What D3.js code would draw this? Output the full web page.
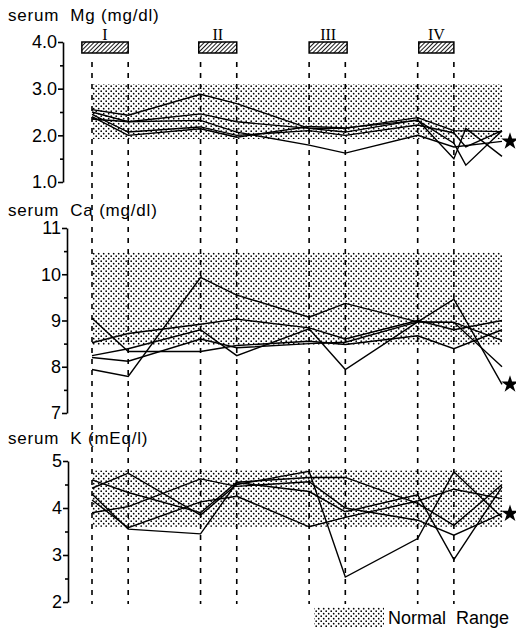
<!DOCTYPE html>
<meta charset="utf-8">
<script src="https://d3js.org/d3.v7.min.js"></script>
<style>
body { margin: 0; background: #fff; }
text { font-family: "Liberation Sans", Arial, sans-serif; fill: #000; }
.trace { fill: none; stroke: #000; stroke-width: 1.4px; stroke-linejoin: miter; }
.sample { stroke: #000; stroke-width: 1.6px; stroke-dasharray: 5,6; }
.axis path, .axis line { stroke: #000; stroke-width: 1.6px; }
.axis text { font-size: 18px; }
.title { font-size: 17px; letter-spacing: 0.8px; }
.roman { font-family: "Liberation Serif", "DejaVu Serif", serif; font-size: 16px; }
</style>
<body>
<script>

// sampling times (weeks); 10.33 only where a trace has an extra reading
var times = [0, 1, 3, 4, 6, 7, 9, 10, 10.33, 11.33];
var sampleTimes = [0, 1, 3, 4, 6, 7, 9, 10];

// treatment courses I - IV (start, end in weeks)
var courseNames = ["I", "II", "III", "IV"];
var courseStart = [-0.28, 2.95, 6, 9.03];
var courseEnd = [1, 4, 7.05, 10];

// serum Mg (mg/dl)
var mg1 = [2.55, 2.43, 2.88, 2.68, 2.15, 2.15, 2.38, 2.10, null, 2.08];
var mg2 = [2.50, 2.29, 2.46, 2.29, 2.15, 2.07, 2.33, 1.50, 2.15, 1.55];
var mg3 = [2.45, 2.07, 2.18, 2.00, 2.10, 2.00, 2.22, 2.05, 1.75, 2.10];
var mg4 = [2.40, 2.00, 2.14, 1.96, 2.19, 2.16, 2.32, 1.83, 1.36, 2.10];
var mg5 = [2.35, 2.29, 2.32, 2.07, 1.79, 1.62, 2.00, 1.75, null, 1.87];
var mgNormal = [1.92, 3.1];

// serum Ca (mg/dl)
var ca1 = [7.94, 7.79, 9.93, 9.55, 9.07, 9.37, 8.97, 8.96, null, 8.57];
var ca2 = [9.05, 8.33, 8.33, 8.46, 8.55, 8.48, 8.67, 8.39, null, 8.80];
var ca3 = [8.52, 8.72, 8.92, 9.03, 8.84, 8.60, 9.00, 8.80, null, 9.00];
var ca4 = [8.24, 8.39, 8.80, 8.24, 8.82, 7.94, 8.97, 9.46, null, 7.62];
var ca5 = [8.20, 8.12, 8.60, 8.41, 8.50, 8.53, 8.97, 8.96, null, 8.00];
var caNormal = [8.47, 10.47];

// serum K (mEq/l)
var k1 = [4.42, 4.74, 3.85, 4.50, 4.78, 2.53, 3.35, 4.77, null, 3.80];
var k2 = [4.60, 4.33, 3.90, 4.55, 4.65, 4.65, 4.10, 3.63, null, 4.50];
var k3 = [3.90, 4.03, 4.62, 4.46, 4.56, 4.00, 3.74, 3.42, null, 3.88];
var k4 = [4.30, 3.55, 3.45, 4.54, 4.35, 3.92, 4.28, 2.90, null, 4.45];
var k5 = [4.17, 3.58, 4.13, 4.25, 3.60, 3.80, 4.15, 4.40, null, 4.20];
var kNormal = [3.6, 4.8];

var panels = [
  {title: "serum  Mg (mg/dl)", series: [mg1, mg2, mg3, mg4, mg5], star: mg5, normal: mgNormal,
   domain: [1, 4], range: [182, 42], axisX: 63, titleY: 21, fmt: d3.format(".1f")},
  {title: "serum  Ca (mg/dl)", series: [ca1, ca2, ca3, ca4, ca5], star: ca4, normal: caNormal,
   domain: [7, 11], range: [413, 228], axisX: 67, titleY: 216, fmt: d3.format("d")},
  {title: "serum  K (mEq/l)", series: [k1, k2, k3, k4, k5], star: k3, normal: kNormal,
   domain: [2, 5], range: [602, 461], axisX: 68, titleY: 444, fmt: d3.format("d")}
];

var width = 516, height = 630;

var svg = d3.select("body").append("svg")
    .attr("width", width)
    .attr("height", height);

var defs = svg.append("defs");

// stipple used for the normal range
var dots = defs.append("pattern")
    .attr("id", "dots")
    .attr("patternUnits", "userSpaceOnUse")
    .attr("width", 5).attr("height", 5);
dots.append("circle").attr("cx", 1.2).attr("cy", 1.2).attr("r", 0.85).attr("fill", "#000");
dots.append("circle").attr("cx", 3.7).attr("cy", 3.7).attr("r", 0.85).attr("fill", "#000");

// diagonal hatch for the course boxes
var hatch = defs.append("pattern")
    .attr("id", "hatch")
    .attr("patternUnits", "userSpaceOnUse")
    .attr("width", 3).attr("height", 3)
    .attr("patternTransform", "rotate(45)");
hatch.append("rect").attr("width", 3).attr("height", 3).attr("fill", "#fff");
hatch.append("line").attr("x1", 0).attr("y1", 0).attr("x2", 0).attr("y2", 3)
    .attr("stroke", "#000").attr("stroke-width", 1.8);

var x = d3.scaleLinear()
    .domain([0, 11.33])
    .range([92, 502]);

// course boxes with roman numerals
courseNames.forEach(function(name, i) {
  var x0 = x(courseStart[i]), x1 = x(courseEnd[i]);
  svg.append("rect")
      .attr("x", x0).attr("y", 42)
      .attr("width", x1 - x0).attr("height", 11)
      .attr("fill", "url(#hatch)")
      .attr("stroke", "#000")
      .attr("stroke-width", 1.5);
  svg.append("text")
      .attr("class", "roman")
      .attr("x", (x0 + x1) / 2)
      .attr("y", 40)
      .attr("text-anchor", "middle")
      .text(name);
});

panels.forEach(function(p) {
  var y = d3.scaleLinear().domain(p.domain).range(p.range);

  // normal range band
  svg.append("rect")
      .attr("x", x(0))
      .attr("y", y(p.normal[1]))
      .attr("width", x(11.33) - x(0))
      .attr("height", y(p.normal[0]) - y(p.normal[1]))
      .attr("fill", "url(#dots)");

  // axis, ticks every half unit, labels on whole units
  var tv = d3.range(p.domain[0], p.domain[1] + 0.01, 0.5);
  var ax = svg.append("g")
      .attr("class", "axis")
      .attr("transform", "translate(" + p.axisX + ",0)")
      .call(d3.axisLeft(y)
        .tickValues(tv)
        .tickSize(4)
        .tickSizeOuter(0)
        .tickPadding(2)
        .tickFormat(function(d) { return d % 1 === 0 ? p.fmt(d) : ""; }));
  ax.selectAll(".tick line")
      .attr("x2", function(d) { return d % 1 === 0 ? -5 : -3; });

  svg.append("text")
      .attr("class", "title")
      .attr("x", 8)
      .attr("y", p.titleY)
      .attr("xml:space", "preserve")
      .text(p.title);

  var line = d3.line()
      .x(function(d) { return x(d.t); })
      .y(function(d) { return y(d.v); });

  p.series.forEach(function(s) {
    var pts = [];
    s.forEach(function(v, i) { if (v != null) pts.push({t: times[i], v: v}); });
    svg.append("path")
        .attr("class", "trace")
        .attr("d", line(pts));
  });

  var last = p.star[p.star.length - 1];
  svg.append("path")
      .attr("d", d3.symbol().type(d3.symbolStar).size(95))
      .attr("transform", "translate(" + (x(11.33) + 8) + "," + y(last) + ")")
      .attr("fill", "#000");
});

// sampling days, dashed through all three panels
svg.append("g")
    .selectAll("line")
    .data(sampleTimes)
    .enter()
    .append("line")
    .attr("class", "sample")
    .attr("x1", function(d) { return x(d); })
    .attr("x2", function(d) { return x(d); })
    .attr("y1", 62)
    .attr("y2", 604);

// legend
svg.append("rect")
    .attr("x", 314).attr("y", 607)
    .attr("width", 70).attr("height", 20)
    .attr("fill", "url(#dots)");
svg.append("text")
    .attr("x", 388)
    .attr("y", 624)
    .style("font-size", "18px")
    .attr("xml:space", "preserve")
    .text("Normal  Range");

</script>
</body>
</html>
